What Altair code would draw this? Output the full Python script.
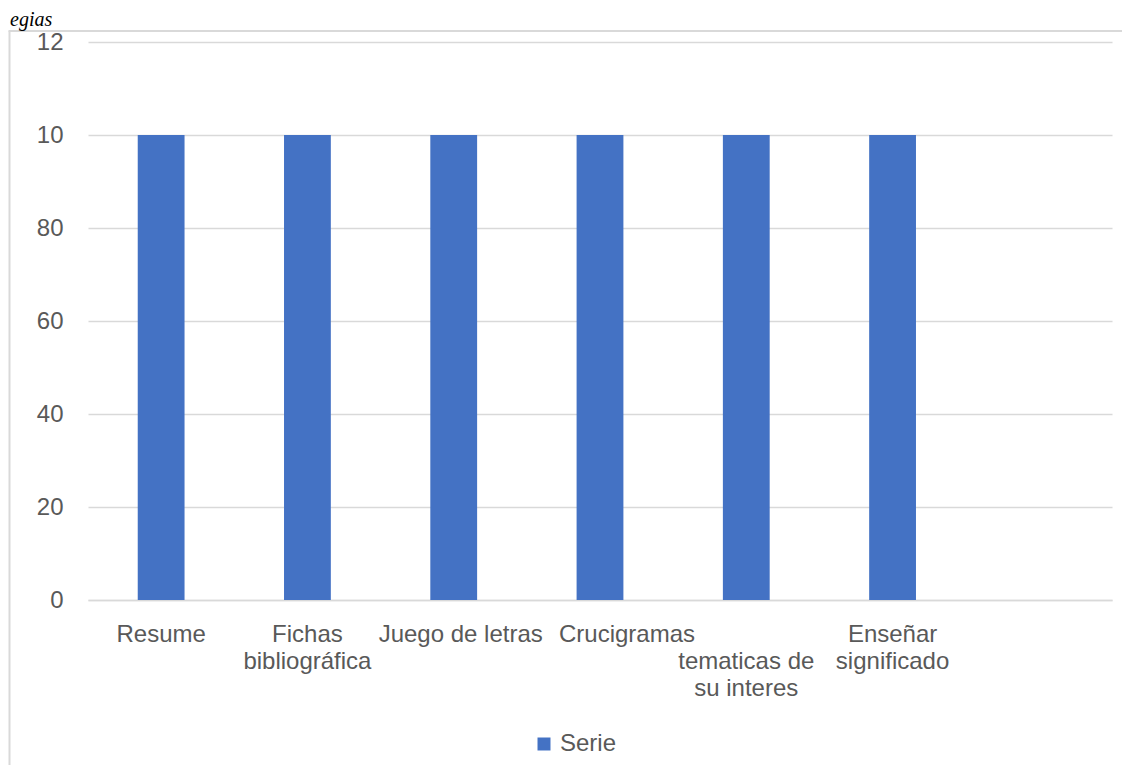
import altair as alt
import pandas as pd

categories = [
    "Resume",
    "Fichas\nbibliográfica",
    "Juego de letras",
    "Crucigramas",
    "\ntematicas de\nsu interes",
    "Enseñar\nsignificado",
]
domain_extra = [" "]
values = [100, 100, 100, 100, 100, 100]
series_name = "Serie"
y_ticks = [0, 20, 40, 60, 80, 100, 120]
title_text = "egias"

df = pd.DataFrame({"cat": categories, "val": values, "serie": [series_name] * len(categories)})

TXT = "#595959"
GRID = "#d9d9d9"
BLUE = "#4472C4"
FONT = "Liberation Sans"

bars = alt.Chart(df).mark_bar(color=BLUE).encode(
    x=alt.X(
        "cat:N",
        sort=None,
        scale=alt.Scale(domain=categories + domain_extra, paddingInner=0.68, paddingOuter=0.34),
        axis=alt.Axis(
            title=None,
            labelExpr="split(datum.label, '\\n')",
            labelAngle=0,
            labelFont=FONT,
            labelFontSize=24,
            labelColor=TXT,
            labelLineHeight=27,
            labelPadding=22,
            labelBaseline="top",
            labelLimit=400,
            labelOffset={
                "condition": [
                    {"test": "datum.value === 'Crucigramas'", "value": 27},
                    {"test": "datum.value === 'Juego de letras'", "value": 7},
                ],
                "value": 0,
            },
            ticks=False,
            domainColor=GRID,
            domainWidth=1.5,
            grid=False,
        ),
    ),
    y=alt.Y(
        "val:Q",
        scale=alt.Scale(domain=[0, 120], nice=False),
        axis=alt.Axis(
            title=None,
            values=y_ticks,
            labelExpr="datum.value >= 100 ? slice(datum.label, 0, 2) : datum.label",
            labelFont=FONT,
            labelFontSize=24,
            labelColor=TXT,
            labelPadding=25,
            ticks=False,
            domain=False,
            grid=True,
            gridColor=GRID,
            gridWidth=1.5,
        ),
    ),
    color=alt.Color(
        "serie:N",
        scale=alt.Scale(range=[BLUE]),
        legend=alt.Legend(
            orient="none",
            legendX=444,
            legendY=690,
            title=None,
            symbolType="square",
            symbolSize=169,
            symbolStrokeWidth=0,
            labelFont=FONT,
            labelFontSize=24,
            labelColor=TXT,
            labelOffset=4,
        ),
    ),
)

frame_left = alt.Chart(pd.DataFrame({"a": [0]})).mark_rule(color=GRID, strokeWidth=2).encode(
    x=alt.value(-78.5), y=alt.value(-11), y2=alt.value(760)
)
frame_top = alt.Chart(pd.DataFrame({"a": [0]})).mark_rule(color=GRID, strokeWidth=2).encode(
    x=alt.value(-79.5), x2=alt.value(1100), y=alt.value(-11)
)
title = alt.Chart(pd.DataFrame({"t": [title_text]})).mark_text(
    font="Liberation Serif", fontStyle="italic", fontSize=20, color="#000000",
    align="left", baseline="alphabetic",
).encode(text="t:N", x=alt.value(-78), y=alt.value(-16))

chart = alt.layer(frame_left, frame_top, title, bars).properties(
    width=1024,
    height=558,
    autosize=alt.AutoSizeParams(type="none"),
    padding={"left": 80, "top": 34, "right": 10, "bottom": 165},
).configure_view(stroke=None)

chart.save("out.html", embed_options={"renderer": "svg", "actions": False})
